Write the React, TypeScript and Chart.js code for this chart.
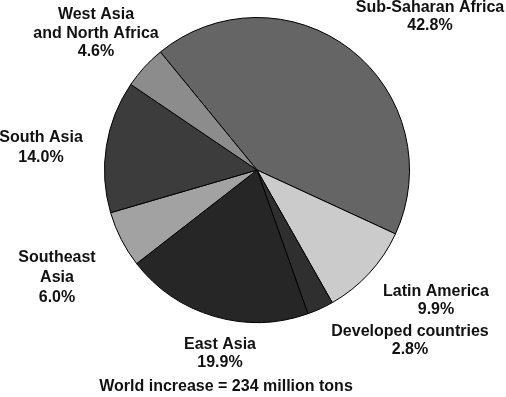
import React, { useEffect, useRef } from "react";
import { Chart, registerables } from "chart.js";

Chart.register(...registerables);

const regions = [
  "Sub-Saharan Africa",
  "Latin America",
  "Developed countries",
  "East Asia",
  "Southeast Asia",
  "South Asia",
  "West Asia and North Africa",
];
const shares = [42.8, 9.9, 2.8, 19.9, 6.0, 14.0, 4.6];
const labelLines = [
  ["Sub-Saharan Africa"],
  ["Latin America"],
  ["Developed countries"],
  ["East Asia"],
  ["Southeast", "Asia"],
  ["South Asia"],
  ["West Asia", "and North Africa"],
];
const footnote = "World increase = 234 million tons";

const sliceColors = ["#656565", "#cbcbcb", "#2f2f2f", "#262626", "#a2a2a2", "#3c3c3c", "#8c8c8c"];
// label anchor (center x, first line y) and line height
const labelPos = [
  [430, 8],
  [436, 292],
  [410, 332],
  [220, 345],
  [57, 258],
  [41, 138],
  [96, 15],
];
const lineHeights = [18, 18, 18, 18, 20, 20, 18.5];

const labelPlugin = {
  id: "sliceLabels",
  afterDraw(chart: any) {
    const ctx = chart.ctx;
    ctx.save();
    ctx.fillStyle = "#111";
    ctx.font = "bold 16px 'Liberation Sans', Arial, sans-serif";
    ctx.textAlign = "center";
    ctx.textBaseline = "middle";
    shares.forEach((v, i) => {
      const lines = [...labelLines[i], v.toFixed(1) + "%"];
      const [x, y] = labelPos[i];
      lines.forEach((t, k) => ctx.fillText(t, x, y + k * lineHeights[i]));
    });
    ctx.fillText(footnote, 226, 387);
    ctx.restore();
  },
};

export default function App() {
  const ref = useRef<HTMLCanvasElement>(null);
  useEffect(() => {
    const chart = new Chart(ref.current!, {
      type: "pie",
      data: {
        labels: regions,
        datasets: [
          {
            data: shares,
            backgroundColor: sliceColors,
            borderColor: "#000",
            borderWidth: 1,
          },
        ],
      },
      options: {
        responsive: false,
        animation: false,
        rotation: -39.3,
        layout: { padding: { left: 104, right: 96, top: 17, bottom: 74 } },
        plugins: {
          legend: { display: false },
          tooltip: { enabled: false },
        },
      },
      plugins: [labelPlugin],
    });
    return () => chart.destroy();
  }, []);
  return (
    <div style={{ position: "absolute", left: 0, top: 0, width: 506, height: 397, background: "#fff" }}>
      <canvas ref={ref} width={506} height={397} />
    </div>
  );
}
